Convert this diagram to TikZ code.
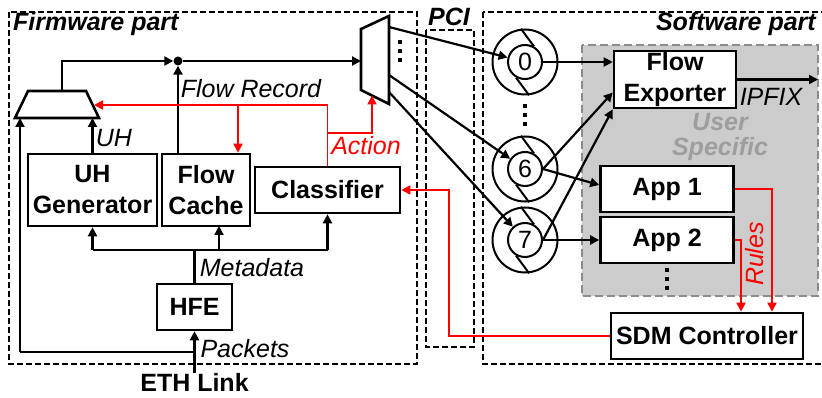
\documentclass[tikz,border=0pt]{standalone}
\usepackage{fontspec}
\setmainfont{Liberation Sans}
\usetikzlibrary{arrows.meta}
\begin{document}
\begin{tikzpicture}[x=1pt,y=-1pt,font=\fontsize{25}{31}\selectfont,
  frame/.style={draw,line width=1.2pt,dash pattern=on 6pt off 3pt},
  box/.style={draw,fill=white,line width=2.6pt,inner sep=0pt,align=center,font=\fontsize{25}{31}\selectfont\bfseries},
  mux/.style={draw,fill=white,line width=2.6pt,line join=miter},
  queue/.style={draw,circle,line width=2pt,inner sep=0pt,minimum size=65pt},
  qin/.style={draw,circle,line width=2pt,inner sep=0pt,minimum size=34pt},
  arr/.style={-{Triangle[length=9pt,width=9pt]},line width=2.2pt},
  redarr/.style={-{Triangle[length=9pt,width=9pt]},line width=1.8pt,red},
  lbl/.style={font=\fontsize{25}{31}\selectfont\itshape,inner sep=0pt}]
\useasboundingbox (0,0) rectangle (822,398);
% frames
\draw[frame] (9,12) rectangle (417,364);
\draw[frame] (426,30) rectangle (474,347);
\draw[frame] (483,12) rectangle (825,364);
\draw[fill=black!20,draw=black!45,line width=2.4pt,dash pattern=on 8pt off 4pt] (582,45) rectangle (818,296);
\node[lbl,font=\fontsize{25}{31}\selectfont\bfseries\itshape,anchor=west] (fwlbl) at (13,24) {Firmware part};
\node[lbl,font=\fontsize{25}{31}\selectfont\bfseries\itshape] (pcilbl) at (449,17) {PCI};
\node[lbl,font=\fontsize{25}{31}\selectfont\bfseries\itshape,anchor=east] (swlbl) at (816,24) {Software part};
\node[lbl,font=\fontsize{25}{25}\selectfont\bfseries\itshape,text=black!38,align=center] (userlbl) at (720,137) {User\\Specific};
% firmware blocks
\node[box,minimum width=129pt,minimum height=72pt] (uhgen) at (92.5,190) {UH\\Generator};
\node[box,minimum width=88pt,minimum height=72pt] (fcache) at (206,190) {Flow\\Cache};
\node[box,minimum width=145pt,minimum height=46pt] (classif) at (327.5,190) {Classifier};
\node[box,minimum width=75pt,minimum height=46pt] (hfe) at (194.5,307) {HFE};
\node[lbl,font=\fontsize{25}{31}\selectfont\bfseries,anchor=north] (ethlink) at (194.5,373) {ETH Link};
\node[circle,fill,inner sep=0pt,minimum size=9pt] (junc) at (178,61) {};
\draw[mux] (15,118) -- (99,118) -- (86,91) -- (28,91) -- cycle;
\draw[mux] (361,29) -- (389,16) -- (389,104) -- (361,90) -- cycle;
\coordinate (lmuxout) at (62,91);
\coordinate (lmuxin1) at (20,118);
\coordinate (lmuxin2) at (92.5,118);
\coordinate (lmuxfr) at (94,105);
\coordinate (dmuxin) at (361,61);
\coordinate (dmux1) at (389,27);
\coordinate (dmux2) at (389,75);
\coordinate (dmux3) at (389,92);
\coordinate (dmuxact) at (372,95.5);
\coordinate (metabus) at (0,250);
\coordinate (pktbus) at (0,352);
\coordinate (recbus) at (0,105);
\coordinate (actbus) at (0,133);
\coordinate (recbr) at (238,105);
\coordinate (pcibend) at (449,0);
\coordinate (ipfixend) at (818,79.5);
\foreach \y in {42,51,60}
  \fill (398,\y-2) rectangle (402,\y+2);
% software blocks
\node[box,minimum width=122pt,minimum height=57pt] (flowexp) at (675,79.5) {Flow\\Exporter};
\node[box,minimum width=133pt,minimum height=46pt] (app1) at (667,189) {App 1};
\node[box,minimum width=133pt,minimum height=46pt] (app2) at (667,240) {App 2};
\node[box,minimum width=192pt,minimum height=46pt] (sdm) at (707,336) {SDM Controller};
\foreach \y in {270,279,288}
  \fill (665,\y-2) rectangle (669,\y+2);
\foreach \y in {106,115,124}
  \fill (523,\y-2) rectangle (527,\y+2);
% queues
\foreach \n/\y in {0/62,6/169,7/240}{
  \node[queue] (q\n) at (525,\y) {};
  \node[qin] (q\n in) at (525,\y) {\n};
  \draw[line width=2pt] (q\n.97) -- (q\n in.60);
  \draw[line width=2pt] (q\n.277) -- (q\n in.240);
}
% black connectors
\draw[arr] (ethlink.north) -- (hfe.south);
\draw[line width=2.2pt] (hfe.south |- pktbus) -- (lmuxin1 |- pktbus);
\draw[arr] (lmuxin1 |- pktbus) -- (lmuxin1);
\draw[line width=2.2pt] (hfe.north) -- (hfe.north |- metabus);
\draw[line width=2.2pt] (uhgen.south |- metabus) -- (classif.south |- metabus);
\draw[arr] (uhgen.south |- metabus) -- (uhgen.south);
\draw[arr] (219,250) -- (219,226);
\draw[arr] (classif.south |- metabus) -- (classif.south);
\draw[arr] (uhgen.north) -- (lmuxin2);
\draw[arr] (junc |- fcache.north) -- (junc);
\draw[arr] (lmuxout) |- (junc);
\draw[arr] (junc) -- (dmuxin);
\draw[arr] (dmux1) -- (q0in);
\draw[arr] (dmux2) -- (q6in);
\draw[arr] (dmux3) -- (q7in);
\draw[arr] (q0in.east) -- (q0in.east -| flowexp.west);
\draw[arr] (q6in.east) -- ([yshift=-13pt]flowexp.west);
\draw[arr] (q7in.east) -- (flowexp.south west);
\draw[arr] (q6in.east) -- ([yshift=4pt]app1.west);
\draw[arr] (q7in.east) -- (q7in.east -| app2.west);
\draw[arr] (flowexp.east) -- (ipfixend);
% red connectors
\draw[redarr] (classif.north) -- (classif.north |- recbus) -- (lmuxfr);
\draw[redarr] (recbr) -- (recbr |- fcache.north);
\draw[redarr] (classif.north |- actbus) -| (dmuxact);
\draw[redarr] (app1.east) -| ([xshift=65pt]sdm.north);
\draw[redarr] (app2.east) -| ([xshift=34pt]sdm.north);
\draw[redarr] (sdm.west) -| (pcibend |- classif.east) -- (classif.east);
% labels
\node[lbl] (reclbl) at (251,89) {Flow Record};
\node[lbl] (uhlbl) at (114,138) {UH};
\node[lbl,text=red] (actlbl) at (366,146) {Action};
\node[lbl] (metalbl) at (252,268) {Metadata};
\node[lbl] (pktlbl) at (245,349) {Packets};
\node[lbl] (ipfixlbl) at (771,97) {IPFIX};
\node[lbl,text=red,rotate=90] (ruleslbl) at (755,254) {Rules};
\end{tikzpicture}
\end{document}
